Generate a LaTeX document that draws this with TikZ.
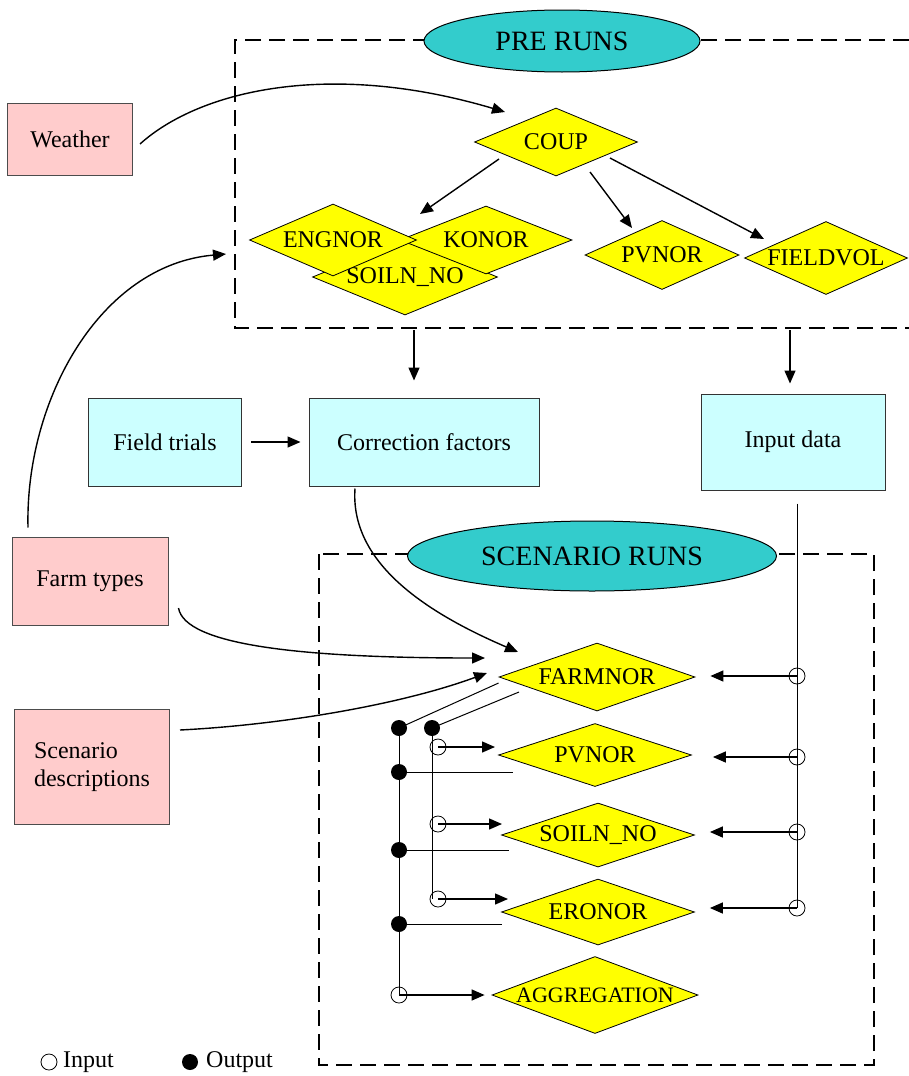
\documentclass[tikz,border=0pt]{standalone}
\usepackage{fontspec}
\setmainfont{Liberation Serif}
\usetikzlibrary{shapes.geometric,arrows.meta,calc}
\definecolor{pinkbox}{HTML}{FFCCCC}
\definecolor{cyanbox}{HTML}{CCFFFF}
\definecolor{tealell}{HTML}{33CCCC}
\definecolor{diayel}{HTML}{FFFF00}
\begin{document}
\begin{tikzpicture}[x=1pt,y=-1pt,font=\fontsize{24}{28}\selectfont]
\tikzset{
 pbox/.style={rectangle, draw=black!70, line width=1pt, fill=pinkbox, inner sep=0pt},
 cbox/.style={rectangle, draw=black!80, line width=1pt, fill=cyanbox, inner sep=0pt},
 runell/.style={ellipse, draw=black, line width=1pt, fill=tealell, inner sep=0pt, font=\fontsize{28}{32}\selectfont},
 dia/.style={diamond, draw=black, line width=0.8pt, fill=diayel, inner sep=0pt},
 runframe/.style={draw=black, line width=2pt, dash pattern=on 16pt off 8pt},
 arr/.style={line width=1.4pt, -{Triangle[length=13pt,width=11pt]}},
 netline/.style={line width=1pt},
 outdot/.style={circle, fill=black, minimum size=16pt, inner sep=0pt},
 indot/.style={circle, draw=black, line width=0.8pt, minimum size=16pt, inner sep=0pt},
}
\useasboundingbox[fill=white] (0,0) rectangle (909,1076);

% side boxes
\node[pbox, minimum width=125pt, minimum height=72pt] (weather) at (70,139) {Weather};
\node[pbox, minimum width=156pt, minimum height=88pt] (farm) at (90,581) {Farm types};
\node[pbox, minimum width=155pt, minimum height=115pt, align=left] (scen) at (92,767) {Scenario\\descriptions};
\node[cbox, minimum width=153pt, minimum height=88pt] (field) at (165,442) {Field trials};
\node[cbox, minimum width=230pt, minimum height=88pt] (corr) at (424,442) {Correction factors};
\node[cbox, minimum width=184pt, minimum height=96pt] (input) at (793,442) {Input data};

% frames
\draw[runframe] (909,40) -- (235,40) -- (235,328) -- (909,328);
\node[runell, minimum width=276pt, minimum height=62pt] (pre) at (562,41) {PRE RUNS};
\draw[runframe] (319,554) rectangle (874,1065);
\node[runell, minimum width=369pt, minimum height=70pt] (scn) at (592,556) {SCENARIO RUNS};

% pre-run diamonds
\node[dia, aspect=2.40, minimum width=163pt, minimum height=68pt] (coup) at (556,142) {COUP};
\node[dia, aspect=2.43, minimum width=185pt, minimum height=76pt] (soilA) at (405,277) {SOILN\_NO};
\node[dia, aspect=2.53, minimum width=172pt, minimum height=68pt] (konor) at (486,240) {KONOR};
\node[dia, aspect=2.32, minimum width=167pt, minimum height=72pt] (engnor) at (333,240) {ENGNOR};
\node[dia, aspect=2.23, minimum width=154pt, minimum height=69pt] (pvA) at (662,255) {PVNOR};
\node[dia, aspect=2.23, minimum width=163pt, minimum height=73pt] (fieldvol) at (826,258) {FIELDVOL};

% scenario diamonds
\node[dia, aspect=2.88, minimum width=196pt, minimum height=68pt] (farmnor) at (597,677) {FARMNOR};
\node[dia, aspect=3.06, minimum width=193pt, minimum height=63pt] (pvB) at (595,755) {PVNOR};
\node[dia, aspect=3.02, minimum width=193pt, minimum height=64pt] (soilB) at (598,835) {SOILN\_NO};
\node[dia, aspect=2.92, minimum width=193pt, minimum height=66pt] (eronor) at (598,912) {ERONOR};
\node[dia, aspect=2.68, minimum width=206pt, minimum height=77pt, font=\fontsize{22}{26}\selectfont] (aggr) at (595,995) {AGGREGATION};

% coordinates for free ends
\coordinate (preL) at (226,254);
\coordinate (preB1) at (414,330);
\coordinate (preB2) at (790,330);
\coordinate (v2b) at (432,899);

% pre-run connectors
\draw[arr] ($(weather.east)+(7,5)$) .. controls (200,90) and (330,60) .. ($(coup)+(-51,-30)$);
\draw[arr] ($(coup)+(-57,17)$) -- ($(konor)+(-66,-26)$);
\draw[arr] ($(coup)+(34,30)$) -- ($(pvA)+(-30,-27)$);
\draw[arr] ($(coup)+(54,16)$) -- ($(fieldvol)+(-62,-19)$);
\draw[arr] ($(farm.north)+(-62,-9)$) .. controls (25,400) and (100,265) .. (preL);
\draw[arr] (preB1) -- ($(corr.north)+(-10,-17)$);
\draw[arr] (preB2) -- ($(input.north)+(-3,-10)$);
\draw[arr] ($(field.east)+(9,0)$) -- ($(corr.west)+(-8,0)$);

% inputs to FARMNOR
\draw[arr] ($(corr.south)+(-69,2)$) .. controls (350,560) and (420,610) .. ($(farmnor)+(-79,-25)$);
\draw[arr] ($(farm.east)+(10,27)$) .. controls (185,645) and (300,658) .. ($(farmnor)+(-112,-19)$);
\draw[arr] ($(scen.east)+(10,-37)$) .. controls (280,725) and (400,705) .. ($(farmnor)+(-110,-4)$);

% network dots
\node[outdot] (d1) at (399,728) {};
\node[outdot] (d2) at (432,728) {};
\node[outdot] (d3) at (399,772) {};
\node[outdot] (d4) at (399,850) {};
\node[outdot] (d5) at (399,924) {};
\node[indot] (i1) at (438,747) {};
\node[indot] (i2) at (438,824) {};
\node[indot] (i3) at (438,899) {};
\node[indot] (i4) at (399,995) {};
\node[indot] (r1) at (797,676) {};
\node[indot] (r2) at (797,757) {};
\node[indot] (r3) at (797,832) {};
\node[indot] (r4) at (797,908) {};

\draw[netline] (d1.center) -- (i4.center);
\draw[netline] (d2.center) -- (v2b);
\draw[netline] (d1.center) -- ($(farmnor.west)+(0,6)$);
\draw[netline] (d2.center) -- ($(farmnor)+(-78,15)$);
\draw[netline] (d3.center) -- ($(pvB)+(-82,17)$);
\draw[netline] (d4.center) -- ($(soilB)+(-89,15)$);
\draw[netline] (d5.center) -- ($(eronor)+(-96,12)$);
\draw[arr] (i1.center) -- ($(pvB)+(-100,-8)$);
\draw[arr] (i2.center) -- ($(soilB)+(-96,-11)$);
\draw[arr] (i3.center) -- ($(eronor)+(-90,-13)$);
\draw[arr] (i4.center) -- ($(aggr.west)+(-7,0)$);

\draw[netline] ($(input.south)+(4,13)$) -- (r4.center);
\draw[arr] (r1.center) -- ($(farmnor.east)+(15,-1)$);
\draw[arr] (r2.center) -- ($(pvB.east)+(21,2)$);
\draw[arr] (r3.center) -- ($(soilB.east)+(15,-3)$);
\draw[arr] (r4.center) -- ($(eronor.east)+(15,-4)$);

% legend
\node[indot] (legin) at (49,1062) {};
\node[anchor=west, inner sep=0pt] (legint) at (63,1062) {Input};
\node[outdot] (legout) at (190,1062) {};
\node[anchor=west, inner sep=0pt] (legoutt) at (206,1062) {Output};
\end{tikzpicture}
\end{document}
